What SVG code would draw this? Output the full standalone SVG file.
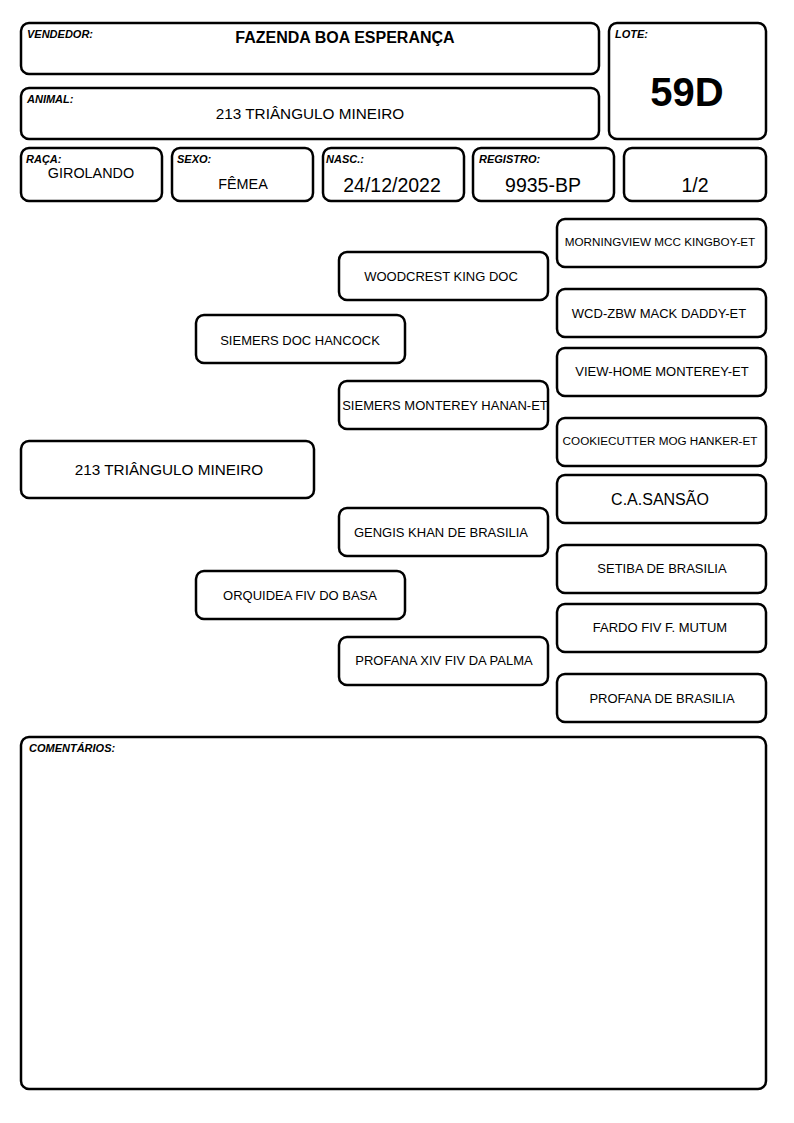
<svg xmlns="http://www.w3.org/2000/svg" width="794" height="1123" viewBox="0 0 794 1123">
<style>
.b{fill:#fff;stroke:#000;stroke-width:2.5}
.l{font-family:"Liberation Sans",Arial,sans-serif;font-size:11px;font-weight:bold;font-style:italic;fill:#000}
.t{font-family:"Liberation Sans",Arial,sans-serif;font-size:13px;fill:#000;text-anchor:middle}
.s{font-size:11.7px}
.m{font-size:16px}
.n{font-size:15.3px}
.v{font-size:19.5px}
.g{font-size:14.4px}
.big{font-size:40px;font-weight:bold}
</style>
<rect width="794" height="1123" fill="#fff"/>
<g id="vendedor"><rect class="b" x="21" y="23" width="578" height="51" rx="8"/><text class="l" x="27" y="38">VENDEDOR:</text><text class="t m" x="345" y="43" font-weight="bold">FAZENDA BOA ESPERANÇA</text></g>
<g id="animal"><rect class="b" x="21" y="88" width="578" height="51" rx="8"/><text class="l" x="27" y="103">ANIMAL:</text><text class="t n" x="310" y="119">213 TRIÂNGULO MINEIRO</text></g>
<g id="lote"><rect class="b" x="609" y="23" width="157" height="116" rx="8"/><text class="l" x="615" y="38">LOTE:</text><text class="t big" x="687" y="106">59D</text></g>
<g id="raca"><rect class="b" x="21" y="148" width="141" height="53" rx="8"/><text class="l" x="26" y="163">RAÇA:</text><text class="t g" x="91" y="178">GIROLANDO</text></g>
<g id="sexo"><rect class="b" x="172" y="148" width="141" height="53" rx="8"/><text class="l" x="177" y="163">SEXO:</text><text class="t g" x="243" y="189">FÊMEA</text></g>
<g id="nasc"><rect class="b" x="323" y="148" width="141" height="53" rx="8"/><text class="l" x="326" y="163">NASC.:</text><text class="t v" x="392" y="192">24/12/2022</text></g>
<g id="registro"><rect class="b" x="473" y="148" width="141" height="53" rx="8"/><text class="l" x="479" y="163">REGISTRO:</text><text class="t v" x="543" y="192">9935-BP</text></g>
<g id="fracao"><rect class="b" x="624" y="148" width="142" height="53" rx="8"/><text class="t v" x="695" y="192">1/2</text></g>
<g id="n213"><rect class="b" x="21" y="441" width="293" height="57" rx="8"/><text class="t n" x="169" y="475">213 TRIÂNGULO MINEIRO</text></g>
<g id="siemersdoc"><rect class="b" x="196" y="315" width="209" height="48" rx="8"/><text class="t" x="300" y="345">SIEMERS DOC HANCOCK</text></g>
<g id="orquidea"><rect class="b" x="196" y="571" width="209" height="48" rx="8"/><text class="t" x="300" y="600">ORQUIDEA FIV DO BASA</text></g>
<g id="woodcrest"><rect class="b" x="339" y="252" width="209" height="48" rx="8"/><text class="t" x="441" y="281">WOODCREST KING DOC</text></g>
<g id="siemersmonterey"><rect class="b" x="339" y="381" width="209" height="48" rx="8"/><text class="t" x="445" y="410">SIEMERS MONTEREY HANAN-ET</text></g>
<g id="gengis"><rect class="b" x="339" y="508" width="209" height="48" rx="8"/><text class="t" x="441" y="537">GENGIS KHAN DE BRASILIA</text></g>
<g id="profanaxiv"><rect class="b" x="339" y="637" width="209" height="48" rx="8"/><text class="t" x="444" y="665">PROFANA XIV FIV DA PALMA</text></g>
<g id="morningview"><rect class="b" x="557" y="219" width="209" height="48" rx="8"/><text class="t s" x="660" y="246">MORNINGVIEW MCC KINGBOY-ET</text></g>
<g id="wcd"><rect class="b" x="557" y="289" width="209" height="48" rx="8"/><text class="t" x="659" y="318">WCD-ZBW MACK DADDY-ET</text></g>
<g id="viewhome"><rect class="b" x="557" y="348" width="209" height="48" rx="8"/><text class="t" x="662" y="376">VIEW-HOME MONTEREY-ET</text></g>
<g id="cookiecutter"><rect class="b" x="557" y="418" width="209" height="48" rx="8"/><text class="t s" x="660" y="445">COOKIECUTTER MOG HANKER-ET</text></g>
<g id="sansao"><rect class="b" x="557" y="475" width="209" height="48" rx="8"/><text class="t m" x="660" y="505">C.A.SANSÃO</text></g>
<g id="setiba"><rect class="b" x="557" y="545" width="209" height="48" rx="8"/><text class="t" x="662" y="573">SETIBA DE BRASILIA</text></g>
<g id="fardo"><rect class="b" x="557" y="604" width="209" height="48" rx="8"/><text class="t" x="660" y="632">FARDO FIV F. MUTUM</text></g>
<g id="profanabrasilia"><rect class="b" x="557" y="674" width="209" height="48" rx="8"/><text class="t" x="662" y="703">PROFANA DE BRASILIA</text></g>
<g id="comentarios"><rect class="b" x="21" y="737" width="745" height="352" rx="8"/><text class="l" x="29" y="752">COMENTÁRIOS:</text></g>
<g id="connectors"></g>
</svg>
